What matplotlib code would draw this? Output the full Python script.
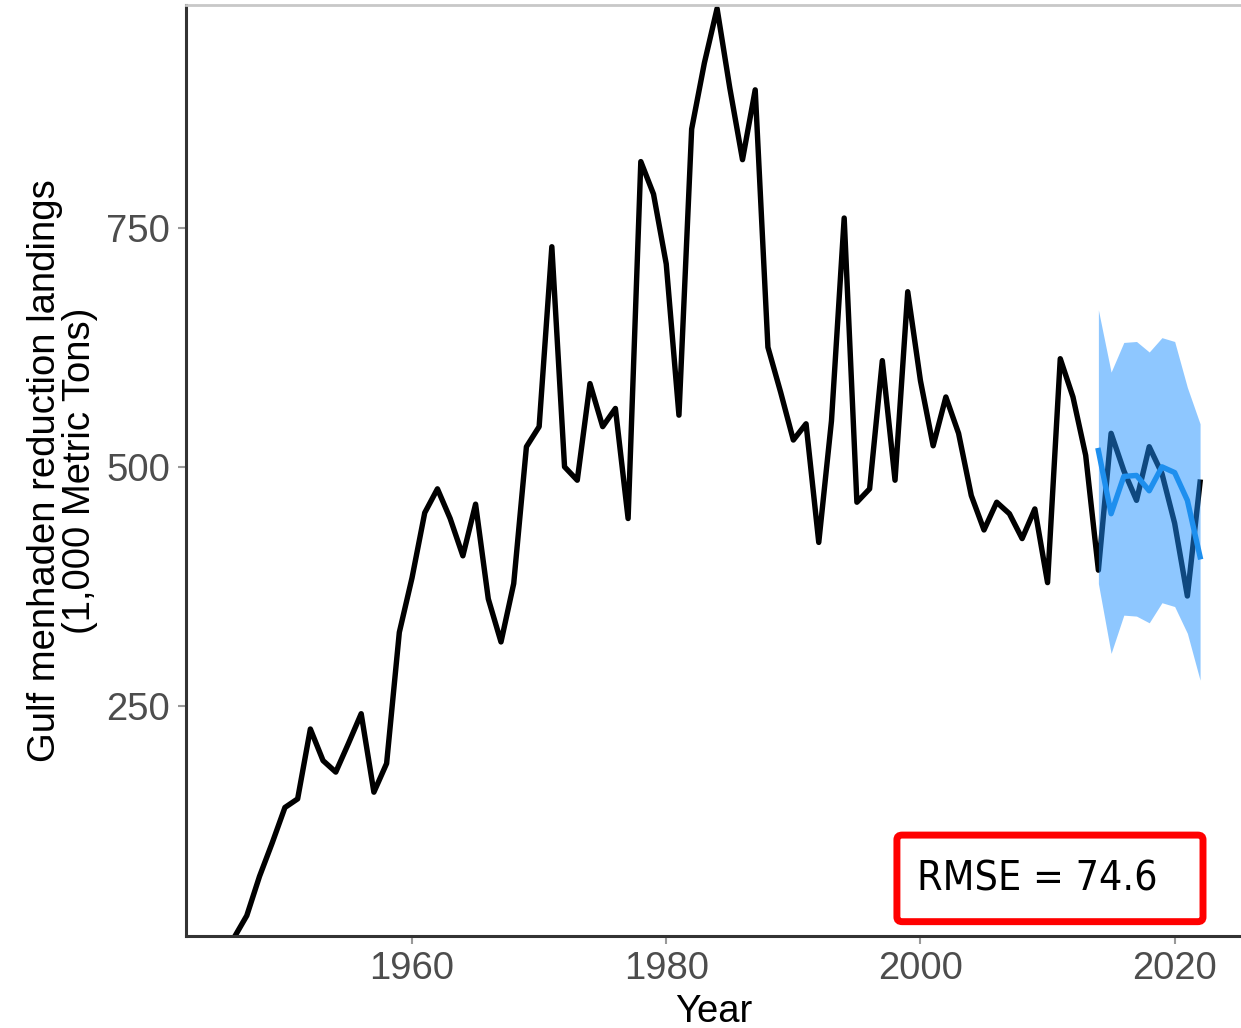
import numpy as np
import matplotlib
matplotlib.use('Agg')
import matplotlib.pyplot as plt
from matplotlib.patches import FancyBboxPatch

plt.rcParams['font.family'] = ['Liberation Sans', 'DejaVu Sans']

# Observed landings (1,000 metric tons)
years = list(range(1946, 2023))
landings = [8, 31, 72, 107, 144, 153, 226, 193, 181, 211,
            242, 160, 190, 327, 384, 452, 477, 446, 407, 461,
            362, 317, 378, 521, 542, 730, 500, 486, 587, 542,
            561, 446, 819, 785, 712, 554, 853, 922, 979, 896,
            821, 894, 625, 578, 528, 545, 421, 548, 760, 463,
            477, 611, 486, 683, 590, 522, 573, 535, 470, 434,
            463, 451, 425, 456, 379, 613, 573, 512, 392, 535,
            496, 465, 521, 493, 441, 365, 484]

# Forecast and its interval
fc_years = list(range(2014, 2023))
forecast = [517, 451, 490, 491, 475, 500, 494, 465, 406]
fc_upper = [664, 599, 630, 631, 620, 635, 631, 583, 545]
fc_lower = [378, 305, 345, 344, 337, 358, 354, 326, 277]

rmse_text = 'RMSE = 74.6'

fig = plt.figure(figsize=(12.41, 10.28), dpi=100)
ax = fig.add_axes([0.1495, 0.0895, 0.8505, 0.9055])

ax.plot(years, landings, color='black', lw=3.9, zorder=2)
ax.fill_between(fc_years, fc_lower, fc_upper, color='#1E90FF', alpha=0.5, lw=0, zorder=3)
ax.plot(fc_years, forecast, color='#1E8FEE', lw=3.9, zorder=4)

ax.set_xlim(1942.18, 2025.22)
ax.set_ylim(9.7, 982.5)
ax.set_xticks([1960, 1980, 2000, 2020])
ax.set_yticks([250, 500, 750])

ax.tick_params(axis='both', length=6, width=1.5, color='#999999',
               labelsize=27.5, labelcolor='#4D4D4D', pad=5)

for s in ['left', 'bottom']:
    ax.spines[s].set_linewidth(2.2)
    ax.spines[s].set_color('#333333')
ax.spines['top'].set_color('#C8C8C8')
ax.spines['top'].set_linewidth(2)
ax.spines['right'].set_visible(False)

ax.set_xlabel('Year', fontsize=27.5, labelpad=5)
ax.set_ylabel('Gulf menhaden reduction landings\n(1,000 Metric Tons)',
              fontsize=27.5, labelpad=6, linespacing=0.95)

# RMSE box
box = FancyBboxPatch((0.674, 0.0154), 0.29, 0.093, transform=ax.transAxes,
                     boxstyle='round,pad=0,rounding_size=0.005',
                     facecolor='white', edgecolor='#FF0000', lw=5, zorder=5)
ax.add_patch(box)
ax.text(0.6935, 0.061, rmse_text, transform=ax.transAxes, fontsize=29.5,
        family='DejaVu Sans', fontstretch='condensed',
        va='center', ha='left', zorder=6)

fig.savefig('out.png', dpi=100)
